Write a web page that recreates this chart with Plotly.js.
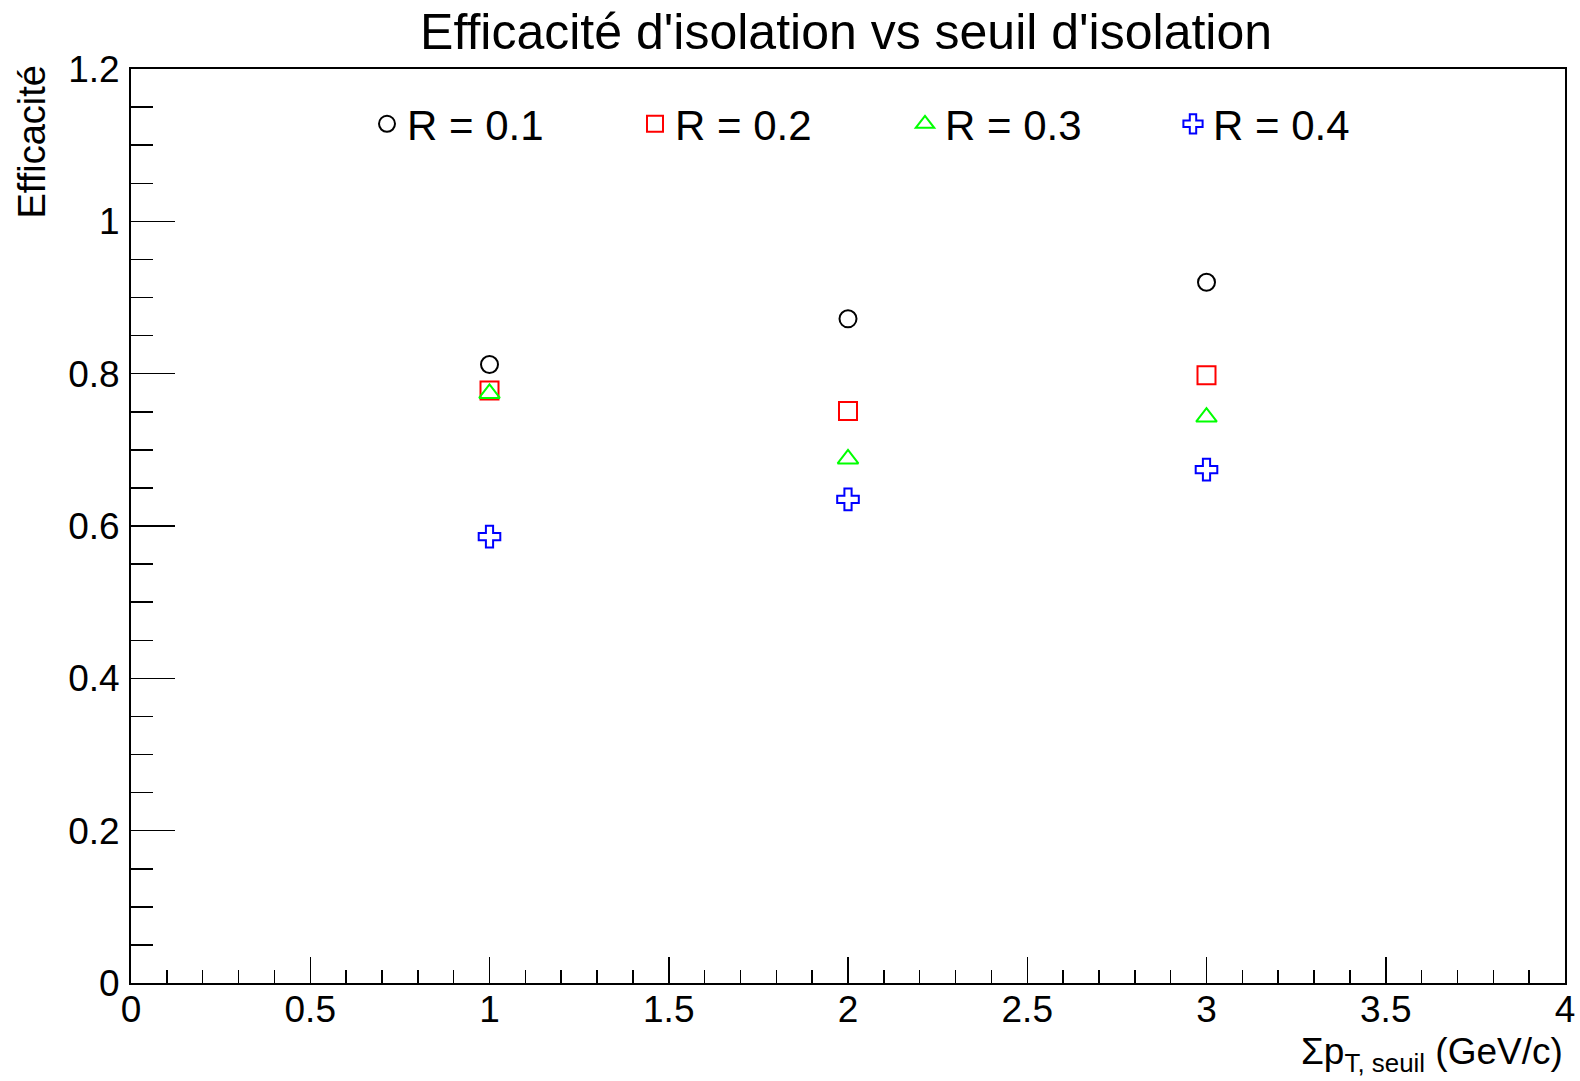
<!DOCTYPE html>
<html>
<head>
<meta charset="utf-8">
<script src="https://cdn.plot.ly/plotly-3.0.1.min.js"></script>
<style>html,body{margin:0;padding:0;background:#fff;}#chart{width:1580px;height:1081px;}</style>
</head>
<body>
<div id="chart"></div>
<script>
// Data
var thresholds = [1, 2, 3];
var effR01 = [0.812, 0.872, 0.920];
var effR02 = [0.778, 0.751, 0.798];
var effR03 = [0.774, 0.688, 0.743];
var effR04 = [0.586, 0.635, 0.674];
var seriesNames = ['R = 0.1', 'R = 0.2', 'R = 0.3', 'R = 0.4'];
var xTickVals = [0, 0.5, 1, 1.5, 2, 2.5, 3, 3.5, 4];
var xTickText = ['0', '0.5', '1', '1.5', '2', '2.5', '3', '3.5', '4'];
var yTickVals = [0, 0.2, 0.4, 0.6, 0.8, 1, 1.2];
var yTickText = ['0', '0.2', '0.4', '0.6', '0.8', '1', '1.2'];

var FONT = 'Liberation Sans, Arial, Helvetica, sans-serif';
var symbols = ['circle-open', 'square-open', 'triangle-up-open', 'cross-open'];
var colors = ['#000000', '#ff0000', '#00ff00', '#0000ff'];
var sizes = [17, 18, 18, 18];
var legendIds = ['legend', 'legend2', 'legend3', 'legend4'];
var allY = [effR01, effR02, effR03, effR04];

var traces = allY.map(function (ys, i) {
  return {
    x: thresholds, y: ys, type: 'scatter', mode: 'markers', name: seriesNames[i],
    legend: legendIds[i],
    marker: { symbol: symbols[i], size: sizes[i], color: colors[i], line: { color: colors[i], width: 2 } }
  };
});

var L = 131, R = 15, T = 69, B = 98;
var W = 1580, H = 1081;
var pw = W - L - R, ph = H - T - B;
function px2x(p) { return (p - L) / pw; }
function px2y(p) { return (H - B - p) / ph; }

var legendStarts = [367, 635, 905, 1173];
var layout = {
  width: W, height: H,
  margin: { l: L, r: R, t: T, b: B, pad: 0 },
  paper_bgcolor: '#fff', plot_bgcolor: '#fff',
  font: { family: FONT, color: '#000' },
  title: { text: "Efficacité d'isolation vs seuil d'isolation", font: { family: FONT, size: 50, color: '#000' }, x: 0.5355, xanchor: 'center', y: 0.971, yanchor: 'middle' },
  showlegend: true,
  xaxis: {
    range: [0, 4], tickmode: 'array', tickvals: xTickVals, ticktext: xTickText,
    ticks: 'inside', ticklen: 26, tickwidth: 1.5, tickcolor: '#000',
    minor: { dtick: 0.1, tick0: 0, ticks: 'inside', ticklen: 13, tickwidth: 1.5, tickcolor: '#000', showgrid: false },
    showline: true, linewidth: 2, linecolor: '#000', mirror: true,
    showgrid: false, zeroline: false, ticklabelstandoff: -7,
    tickfont: { family: FONT, size: 37, color: '#000' }
  },
  yaxis: {
    range: [0, 1.2], tickmode: 'array', tickvals: yTickVals, ticktext: yTickText,
    ticks: 'inside', ticklen: 44, tickwidth: 1.5, tickcolor: '#000',
    minor: { dtick: 0.05, tick0: 0, ticks: 'inside', ticklen: 22, tickwidth: 1.5, tickcolor: '#000', showgrid: false },
    showline: true, linewidth: 2, linecolor: '#000', mirror: true,
    showgrid: false, zeroline: false, ticklabelstandoff: 2,
    tickfont: { family: FONT, size: 37, color: '#000' }
  },
  annotations: [
    { text: 'Efficacité', textangle: -90, xref: 'paper', yref: 'paper', x: px2x(31), y: px2y(64), xanchor: 'center', yanchor: 'top', showarrow: false, font: { family: FONT, size: 38, color: '#000' } },
    { text: 'Σp<sub>T, seuil</sub> (GeV/c)', xref: 'paper', yref: 'paper', x: 1, y: px2y(1029), xanchor: 'right', yanchor: 'top', showarrow: false, font: { family: FONT, size: 37, color: '#000' } }
  ]
};
legendIds.forEach(function (id, i) {
  layout[id] = {
    x: px2x(legendStarts[i]), xanchor: 'left', y: px2y(124), yanchor: 'middle',
    bgcolor: 'rgba(0,0,0,0)', borderwidth: 0,
    font: { family: FONT, size: 42, color: '#000' }
  };
});

Plotly.newPlot('chart', traces, layout, { displayModeBar: false, staticPlot: true });
</script>
</body>
</html>
